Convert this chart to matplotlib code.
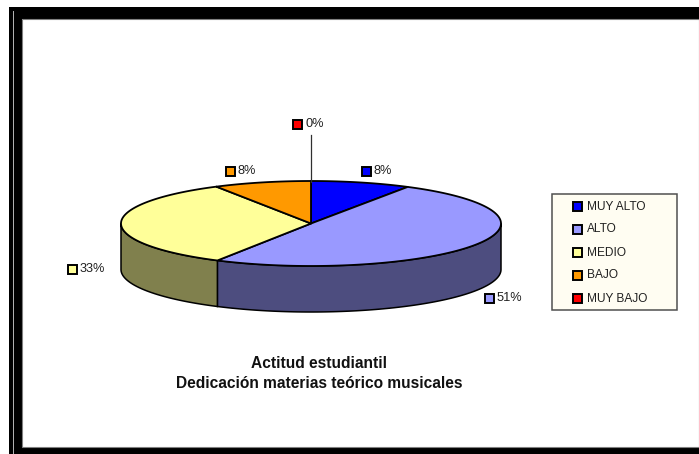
import numpy as np
import matplotlib
matplotlib.use("Agg")
import matplotlib.pyplot as plt
from matplotlib.patches import Rectangle, Polygon

categories = ["MUY ALTO", "ALTO", "MEDIO", "BAJO", "MUY BAJO"]
slice_shares = [8.5, 49.7, 33.5, 8.3, 0.0]      # sizes as drawn in the picture
pct_labels = ["8%", "51%", "33%", "8%", "0%"]   # labels as printed
top_colors = ["#0000FF", "#9999FF", "#FFFF99", "#FF9900", "#FF0000"]
side_colors = ["#00007F", "#4D4D7F", "#80804D", "#7F4D00", "#7F0000"]
title_lines = ["Actitud estudiantil", "Dedicación materias teórico musicales"]

plt.rcParams["font.family"] = ["Liberation Sans", "DejaVu Sans"]
fig = plt.figure(figsize=(6.99, 4.54), dpi=100, facecolor="white")
ax = fig.add_axes([0, 0, 1, 1])
ax.set_xlim(0, 699)
ax.set_ylim(454, 0)
ax.axis("off")

# outer frame
ax.add_patch(Rectangle((9, 7), 690, 12, fc="black", ec="none", zorder=1))
ax.add_patch(Rectangle((9, 7), 13, 447, fc="black", ec="none", zorder=1))
ax.add_patch(Rectangle((22, 447), 677, 7, fc="black", ec="none", zorder=1))
ax.add_patch(Rectangle((13, 11), 1.3, 443, fc="#B0B0B0", ec="none", zorder=2))
ax.add_patch(Rectangle((22, 19), 677, 428, fc="white", ec="#808080", lw=0.8, zorder=2))

# pie geometry
cx, cy, rx, ry, depth = 311, 223.5, 190, 42.5, 46


def ell(t_deg, dy=0.0):
    t = np.radians(np.asarray(t_deg, dtype=float))
    return np.column_stack([cx + rx * np.sin(t), cy - ry * np.cos(t) + dy])


edges = np.concatenate([[0], np.cumsum(slice_shares)]) * 3.6
# side walls (visible lower half only)
for i in range(len(slice_shares)):
    a, b = max(edges[i], 90), min(edges[i + 1], 270)
    if b <= a:
        continue
    ts = np.linspace(a, b, 100)
    pts = np.vstack([ell(ts), ell(ts[::-1], depth)])
    ax.add_patch(Polygon(pts, closed=True, fc=side_colors[i], ec="black", lw=1.1, zorder=3))
# top faces
for i in range(len(slice_shares)):
    if slice_shares[i] == 0:
        continue
    ts = np.linspace(edges[i], edges[i + 1], 120)
    pts = np.vstack([[cx, cy], ell(ts)])
    ax.add_patch(Polygon(pts, closed=True, fc=top_colors[i], ec="black", lw=1.3,
                         joinstyle="round", zorder=4))

# leader for the empty slice
ax.plot([311, 311], [135, 182], color="#303030", lw=0.9, zorder=5)


def key(x, y, color, s=9):
    ax.add_patch(Rectangle((x - s / 2, y - s / 2), s, s, fc=color, ec="black", lw=1.4, zorder=6))


# data labels: key centre x, y, text x
label_pos = [(366, 171, 373), (489, 298, 497), (72, 269, 80), (230, 171, 238), (297, 124, 305)]
for (kx, ky, tx), lab, col in zip(label_pos, pct_labels, top_colors):
    key(kx, ky, col)
    ax.text(tx, ky, lab, fontsize=9.2, color="#202020", va="center", ha="left", zorder=6)

# legend
ax.add_patch(Rectangle((552, 193.5), 125, 116.5, fc="#FFFDF2", ec="#505050", lw=1.1, zorder=5))
leg_y = [206.5, 229.5, 252.5, 275.5, 298.5]
for y, name, col in zip(leg_y, categories, top_colors):
    key(577, y, col)
    ax.text(587, y, name, fontsize=8.6, color="#202020", va="center", ha="left", zorder=6)

# title
for y, line in zip([364, 384], title_lines):
    ax.text(319, y, line, fontsize=11.2, fontweight="bold", color="#111111",
            ha="center", va="center", zorder=6)

fig.savefig("out.png", dpi=100, facecolor="white")
